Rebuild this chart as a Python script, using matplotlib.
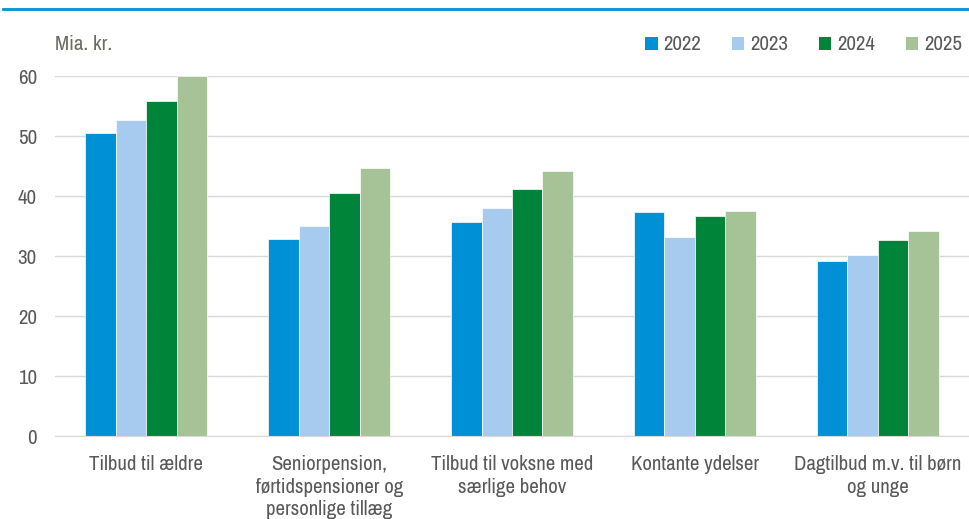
import matplotlib
matplotlib.use("Agg")
import matplotlib.pyplot as plt
import numpy as np
from matplotlib.patches import Patch
from matplotlib.lines import Line2D
from matplotlib import font_manager as fm

categories = ["Tilbud til ældre",
              "Seniorpension,\nførtidspensioner og\npersonlige tillæg",
              "Tilbud til voksne med\nsærlige behov",
              "Kontante ydelser",
              "Dagtilbud m.v. til børn\nog unge"]
years = ["2022", "2023", "2024", "2025"]
v2022 = [50.5, 32.8, 35.7, 37.3, 29.2]
v2023 = [52.7, 35.0, 38.0, 33.2, 30.2]
v2024 = [55.8, 40.5, 41.2, 36.7, 32.7]
v2025 = [60.0, 44.7, 44.2, 37.5, 34.2]
series = [v2022, v2023, v2024, v2025]
colors = ["#0090D6", "#A6CBEE", "#00843A", "#A5C397"]
yticks = [0, 10, 20, 30, 40, 50, 60]

# pick a narrow sans font if available (reference uses an Arial Narrow-like face)
narrow = None
for key in ["ArchivoNarrow[", "RobotoCondensed-Regular", "RobotoCondensed[", "BarlowCondensed-Regular"]:
    for f in fm.findSystemFonts():
        if key in f and "Italic" not in f:
            try:
                fm.fontManager.addfont(f)
                narrow = fm.FontProperties(fname=f).get_name()
            except Exception:
                narrow = None
            break
    if narrow:
        break
fams = ([narrow] if narrow else []) + ['Liberation Sans', 'DejaVu Sans']
plt.rcParams['font.family'] = fams
txt = "#595959"

fig = plt.figure(figsize=(9.69, 5.19), dpi=100)
ax = fig.add_axes([55/969, 83/519, 914/969, 360/519])

x = np.arange(len(categories))
w = 1/6
for i, (vals, c) in enumerate(zip(series, colors)):
    ax.bar(x + (i - 1.5) * w, vals, width=w, color=c, label=years[i], zorder=3,
           edgecolor="white", linewidth=0.5)

ax.set_xlim(-0.5, len(categories) - 0.5)
ax.set_ylim(0, 60)
ax.set_yticks(yticks)
ax.set_yticklabels([str(t) for t in yticks], fontsize=15, color=txt)
ax.set_xticks(x)
ax.set_xticklabels(categories, fontsize=15, color=txt, linespacing=1.22)
ax.tick_params(axis='both', length=0)
ax.tick_params(axis='y', pad=13)
ax.tick_params(axis='x', pad=14)
ax.grid(axis='y', color="#D9D9D9", linewidth=1, zorder=0)
for s in ["top", "right", "left"]:
    ax.spines[s].set_visible(False)
ax.spines["bottom"].set_color("#D9D9D9")
ax.spines["bottom"].set_zorder(4)

fig.text(55/969, 1 - 45/519, "Mia. kr.", fontsize=15, color="#6B6B60", va="center", ha="left")

handles = [Patch(facecolor=c, edgecolor="none") for c in colors]
fig.legend(handles, years, loc="center right", bbox_to_anchor=(981/969, 1 - 45/519),
           ncol=4, frameon=False, fontsize=15, handlelength=0.6, handleheight=0.6,
           handletextpad=0.3, columnspacing=1.45, labelcolor=txt)

fig.add_artist(Line2D([3/969, 1], [1 - 9/519, 1 - 9/519], color="#0090D6", linewidth=2,
                      transform=fig.transFigure))

fig.savefig("out.png", dpi=100)
